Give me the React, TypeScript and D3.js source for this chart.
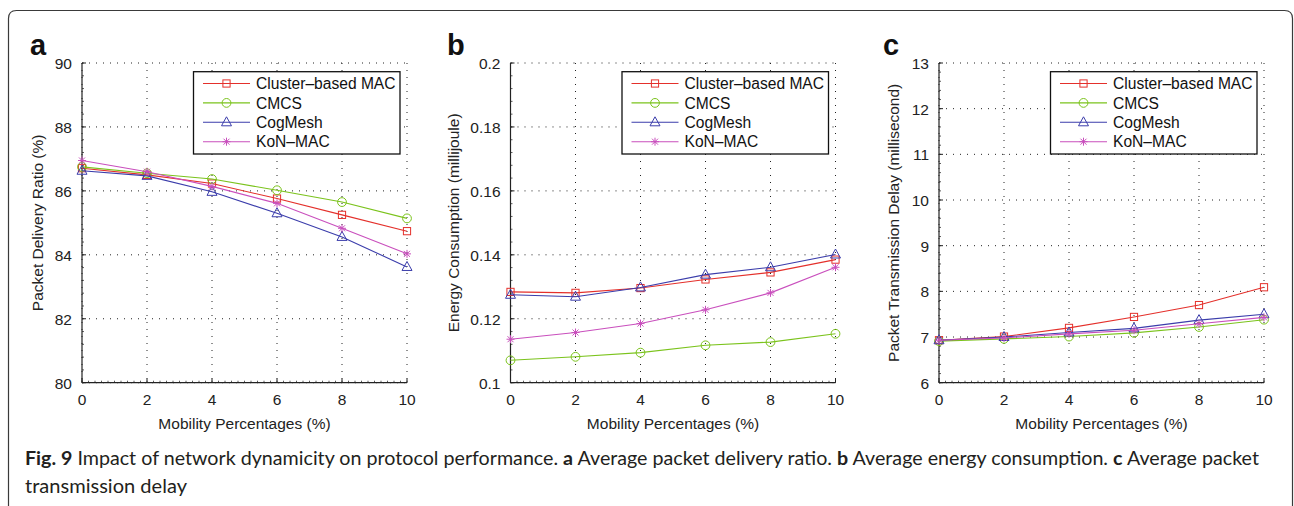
import React from 'react';
import * as d3 from 'd3';

const xValues = [0, 2, 4, 6, 8, 10];
const xTicks = [0, 2, 4, 6, 8, 10];
const seriesNames = ['Cluster–based MAC', 'CMCS', 'CogMesh', 'KoN–MAC'];
const seriesColors = ['#e4302b', '#7bc31c', '#3b3dab', '#c94fbd'];
const seriesMarkers = ['square', 'circle', 'triangle', 'star'];

// (a) Packet delivery ratio (%)
const pdrCluster = [86.71, 86.5, 86.23, 85.76, 85.25, 84.74];
const pdrCMCS = [86.75, 86.55, 86.37, 86.02, 85.65, 85.14];
const pdrCogMesh = [86.63, 86.47, 85.97, 85.3, 84.56, 83.62];
const pdrKoN = [86.95, 86.6, 86.14, 85.61, 84.83, 84.03];
const pdrTicks = [80, 82, 84, 86, 88, 90];

// (b) Energy consumption (millijoule)
const energyCluster = [0.1284, 0.1281, 0.1296, 0.1323, 0.1345, 0.1385];
const energyCMCS = [0.107, 0.1081, 0.1094, 0.1117, 0.1127, 0.1153];
const energyCogMesh = [0.1275, 0.1269, 0.1298, 0.1338, 0.1361, 0.1401];
const energyKoN = [0.1136, 0.1157, 0.1185, 0.1228, 0.1281, 0.1361];
const energyTicks = [0.1, 0.12, 0.14, 0.16, 0.18, 0.2];

// (c) Packet transmission delay (millisecond)
const delayCluster = [6.93, 7.01, 7.2, 7.44, 7.7, 8.09];
const delayCMCS = [6.91, 6.96, 7.01, 7.09, 7.22, 7.38];
const delayCogMesh = [6.93, 7.0, 7.1, 7.19, 7.37, 7.5];
const delayKoN = [6.93, 6.98, 7.07, 7.15, 7.29, 7.43];
const delayTicks = [6, 7, 8, 9, 10, 11, 12, 13];

const panels = [
  {
    letter: 'a', left: 82, letterX: 30, yLabelX: 42.5,
    yLabel: 'Packet Delivery Ratio (%)',
    series: [pdrCluster, pdrCMCS, pdrCogMesh, pdrKoN],
    ticks: pdrTicks, fmt: (v: number) => String(v),
  },
  {
    letter: 'b', left: 510.5, letterX: 447, yLabelX: 459,
    yLabel: 'Energy Consumption (millijoule)',
    series: [energyCluster, energyCMCS, energyCogMesh, energyKoN],
    ticks: energyTicks, fmt: (v: number) => String(+v.toFixed(2)),
  },
  {
    letter: 'c', left: 939, letterX: 883, yLabelX: 899,
    yLabel: 'Packet Transmission Delay (millisecond)',
    series: [delayCluster, delayCMCS, delayCogMesh, delayKoN],
    ticks: delayTicks, fmt: (v: number) => String(v),
  },
];

const FONT = '"Liberation Sans", Arial, Helvetica, sans-serif';
const TOP = 63;
const BOTTOM = 382.7;
const WIDTH = 325;

function Marker({ type, x, y, color }: { type: string; x: number; y: number; color: string }) {
  const common = { fill: 'none', stroke: color, strokeWidth: 1 };
  if (type === 'square') return <rect x={x - 3.6} y={y - 3.6} width={7.2} height={7.2} {...common} />;
  if (type === 'circle') return <circle cx={x} cy={y} r={4.4} {...common} />;
  if (type === 'triangle')
    return <path d={`M${x},${y - 5.5}L${x + 5},${y + 3.5}L${x - 5},${y + 3.5}Z`} {...common} />;
  return (
    <path
      d={`M${x - 4},${y}H${x + 4}M${x},${y - 4}V${y + 4}M${x - 3},${y - 3}L${x + 3},${y + 3}M${x - 3},${y + 3}L${x + 3},${y - 3}`}
      {...common}
    />
  );
}

function Panel({ p }: { p: (typeof panels)[number] }) {
  const x = d3.scaleLinear().domain([0, 10]).range([p.left, p.left + WIDTH]);
  const y = d3
    .scaleLinear()
    .domain([p.ticks[0], p.ticks[p.ticks.length - 1]])
    .range([BOTTOM, TOP]);
  const line = d3
    .line<number>()
    .x((_, i) => x(xValues[i]))
    .y((d) => y(d));
  const xMinor = d3.range(0, 10.001, 0.2);
  const yStep = (p.ticks[1] - p.ticks[0]) / 5;
  const yMinor = d3.range(p.ticks[0], p.ticks[p.ticks.length - 1] + yStep / 2, yStep);
  const lx = p.left + 111.5;
  const ly = 71.7;
  return (
    <g>
      <text x={p.letterX} y={54.5} fontFamily={FONT} fontWeight="bold" fontSize={29} fill="#111">
        {p.letter}
      </text>
      {/* grid */}
      {xTicks.map((t) => (
        <line key={'gx' + t} x1={x(t)} x2={x(t)} y1={TOP} y2={BOTTOM} stroke="#222" strokeWidth={1} strokeDasharray="1,6" />
      ))}
      {p.ticks.map((t) => (
        <line key={'gy' + t} x1={p.left} x2={p.left + WIDTH} y1={y(t)} y2={y(t)} stroke="#222" strokeWidth={1} strokeDasharray="1,6" />
      ))}
      {/* minor ticks */}
      {xMinor.map((t, i) => (
        <line key={'mx' + i} x1={x(t)} x2={x(t)} y1={BOTTOM} y2={BOTTOM - 2} stroke="#333" strokeWidth={0.8} />
      ))}
      {yMinor.map((t, i) => (
        <line key={'my' + i} x1={p.left} x2={p.left + 2} y1={y(t)} y2={y(t)} stroke="#333" strokeWidth={0.8} />
      ))}
      {xTicks.map((t) => (
        <line key={'tx' + t} x1={x(t)} x2={x(t)} y1={BOTTOM} y2={BOTTOM - 4} stroke="#222" strokeWidth={1} />
      ))}
      {p.ticks.map((t) => (
        <line key={'ty' + t} x1={p.left} x2={p.left + 4} y1={y(t)} y2={y(t)} stroke="#222" strokeWidth={1} />
      ))}
      {/* axes */}
      <line x1={p.left} x2={p.left} y1={TOP} y2={BOTTOM} stroke="#222" strokeWidth={1.2} />
      <line x1={p.left} x2={p.left + WIDTH} y1={BOTTOM} y2={BOTTOM} stroke="#222" strokeWidth={1.2} />
      {/* tick labels */}
      {xTicks.map((t) => (
        <text key={'lx' + t} x={x(t)} y={405} textAnchor="middle" fontFamily={FONT} fontSize={15.5} fill="#222">
          {t}
        </text>
      ))}
      {p.ticks.map((t) => (
        <text key={'ly' + t} x={p.left - 10} y={y(t) + 6} textAnchor="end" fontFamily={FONT} fontSize={15.5} fill="#222">
          {p.fmt(t)}
        </text>
      ))}
      <text x={p.left + WIDTH / 2} y={429} textAnchor="middle" fontFamily={FONT} fontSize={15.5} fill="#222">
        Mobility Percentages (%)
      </text>
      <text
        transform={`translate(${p.yLabelX},${(TOP + BOTTOM) / 2}) rotate(-90)`}
        textAnchor="middle"
        fontFamily={FONT}
        fontSize={15.5}
        fill="#222"
      >
        {p.yLabel}
      </text>
      {/* series */}
      {p.series.map((s, si) => (
        <g key={'s' + si}>
          <path d={line(s) || ''} fill="none" stroke={seriesColors[si]} strokeWidth={1.1} />
          {s.map((v, i) => (
            <Marker key={i} type={seriesMarkers[si]} x={x(xValues[i])} y={y(v)} color={seriesColors[si]} />
          ))}
        </g>
      ))}
      {/* legend */}
      <rect x={lx} y={ly} width={206.5} height={82.3} fill="#fff" stroke="#111" strokeWidth={1.3} />
      {seriesNames.map((n, i) => {
        const ry = ly + 11.8 + i * 19.4;
        return (
          <g key={'lg' + i}>
            <line x1={lx + 9.5} x2={lx + 56.5} y1={ry} y2={ry} stroke={seriesColors[i]} strokeWidth={1.1} />
            <Marker type={seriesMarkers[i]} x={lx + 33} y={ry} color={seriesColors[i]} />
            <text x={lx + 62.5} y={ry + 5.6} fontFamily={FONT} fontSize={15.6} fill="#111">
              {n}
            </text>
          </g>
        );
      })}
    </g>
  );
}

export default function App() {
  const capFont = 'Lato, "Open Sans", sans-serif';
  return (
    <svg
      width={1294}
      height={506}
      style={{ position: 'absolute', left: 0, top: 0, background: '#fff' }}
    >
      <rect x={0} y={0} width={1294} height={506} fill="#fff" />
      <path d="M8.5,520V18.5Q8.5,10.5 16.5,10.5H1284.5Q1292.5,10.5 1292.5,18.5V520" fill="none" stroke="#3a3a3a" strokeWidth={1.2} />
      {panels.map((p) => (
        <Panel key={p.letter} p={p} />
      ))}
      <text x={25} y={465} fontFamily={capFont} fontSize={18.5} fill="#231f20" textLength={1234} lengthAdjust="spacingAndGlyphs">
        <tspan fontWeight="bold">Fig. 9</tspan>
        <tspan> Impact of network dynamicity on protocol performance. </tspan>
        <tspan fontWeight="bold">a</tspan>
        <tspan> Average packet delivery ratio. </tspan>
        <tspan fontWeight="bold">b</tspan>
        <tspan> Average energy consumption. </tspan>
        <tspan fontWeight="bold">c</tspan>
        <tspan> Average packet</tspan>
      </text>
      <text x={25} y={493} fontFamily={capFont} fontSize={18.5} fill="#231f20" textLength={162} lengthAdjust="spacingAndGlyphs">
        transmission delay
      </text>
    </svg>
  );
}
